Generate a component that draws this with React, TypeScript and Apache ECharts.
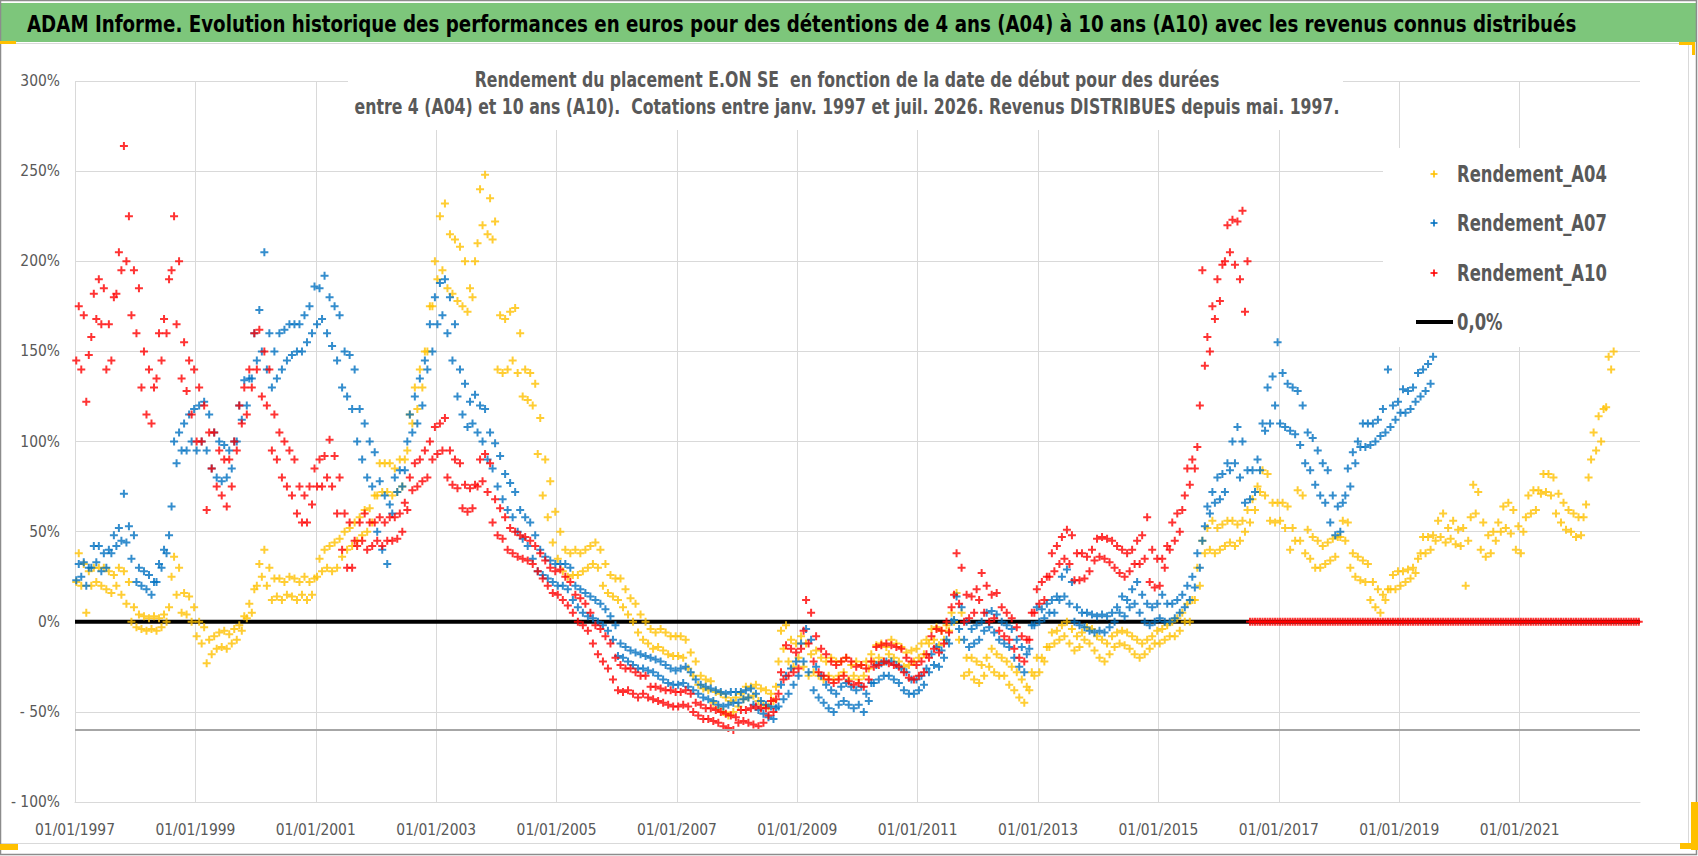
import React, { useEffect, useRef } from 'react';
import * as echarts from 'echarts';

const FONT = "'Liberation Sans Narrow', 'DejaVu Sans Condensed', 'Liberation Sans', sans-serif";

const TITLE = 'ADAM Informe. Evolution historique des performances en euros pour des détentions de 4 ans (A04) à 10 ans (A10) avec les revenus connus distribués';
const SUBTITLE_1 = 'Rendement du placement E.ON SE  en fonction de la date de début pour des durées';
const SUBTITLE_2 = 'entre 4 (A04) et 10 ans (A10).  Cotations entre janv. 1997 et juil. 2026. Revenus DISTRIBUES depuis mai. 1997.';

const seriesNames = ['Rendement_A04', 'Rendement_A07', 'Rendement_A10'];
const zeroLineName = '0,0%';
const xTickLabels = ['01/01/1997', '01/01/1999', '01/01/2001', '01/01/2003', '01/01/2005', '01/01/2007', '01/01/2009', '01/01/2011', '01/01/2013', '01/01/2015', '01/01/2017', '01/01/2019', '01/01/2021'];
const yTickLabels: Record<string, string> = { '-100': '- 100%', '-50': '- 50%', '0': '0%', '50': '50%', '100': '100%', '150': '150%', '200': '200%', '250': '250%', '300': '300%' };

// Monthly readings (low / high of the cloud) starting January 1997
const a10Lo = [
  145, 140, 122, 158, 168, 165, 140, 145, 182, 195, 200, 170,
  160, 130, 115, 110, 135, 145, 160, 195, 165, 135, 128, 115,
  100, 100, 62, 85, 75, 70, 64, 75, 95, 110, 115, 130,
  140, 125, 120, 95, 90, 80, 75, 70, 60, 55, 55, 65,
  75, 75, 80, 75, 60, 40, 30, 30, 42, 45, 40, 42,
  45, 42, 45, 45, 46, 50, 62, 73, 75, 78, 80, 90,
  93, 95, 80, 76, 74, 63, 61, 63, 75, 78, 72, 55,
  48, 46, 40, 38, 36, 35, 34, 32, 28, 24, 20, 16,
  15, 12, 9, 5, 0, -2, -5, -12, -18, -22, -26, -32,
  -38, -39, -38, -40, -42, -40, -42, -43, -44, -45, -46, -47,
  -47, -46, -47, -50, -52, -54, -54, -55, -56, -58, -59, -60,
  -56, -55, -56, -57, -58, -56, -52, -50, -40, -32, -30, -28,
  -26, -5, -12, -22, -28, -30, -32, -34, -32, -30, -33, -35,
  -34, -36, -32, -25, -24, -22, -23, -24, -25, -28, -31, -32,
  -30, -28, -20, -15, -17, -12, -6, 15, 10, 0, 2, 5,
  12, 5, 0, 2, -5, -8, -10, -15, -20, -22, -10, 5,
  10, 12, 25, 28, 32, 35, 32, 23, 23, 24, 28, 34,
  36, 35, 33, 30, 27, 25, 28, 32, 32, 35, 22, 19,
  20, 30, 40, 45, 50, 70, 76, 85, 120, 142, 150, 168,
  178, 200, 205, 198, 190, 172,
];
const a10Hi = [
  175, 170, 148, 182, 190, 185, 165, 180, 205, 264, 225, 195,
  185, 150, 140, 130, 160, 168, 190, 225, 200, 155, 145, 140,
  130, 120, 105, 105, 95, 90, 90, 100, 120, 130, 140, 160,
  162, 150, 140, 115, 105, 100, 95, 90, 75, 70, 75, 85,
  90, 92, 101, 92, 80, 60, 55, 45, 55, 60, 55, 55,
  58, 55, 58, 58, 60, 66, 80, 88, 90, 95, 100, 108,
  110, 113, 95, 90, 88, 76, 74, 76, 90, 93, 88, 68,
  63, 58, 52, 50, 48, 47, 45, 42, 38, 34, 30, 28,
  29, 25, 22, 15, 13, 10, 5, -2, -4, -8, -12, -20,
  -24, -26, -26, -28, -30, -30, -36, -36, -37, -38, -38, -39,
  -39, -38, -40, -45, -46, -48, -48, -49, -50, -51, -52, -53,
  -49, -49, -48, -47, -48, -48, -44, -43, -28, -13, -15, -17,
  -15, 12, 5, -8, -15, -18, -22, -24, -22, -20, -22, -25,
  -24, -26, -22, -14, -13, -12, -13, -14, -15, -20, -22, -24,
  -22, -18, -8, -4, -5, 0, 8, 38, 30, 15, 14, 18,
  27, 20, 15, 16, 8, 5, 2, -3, -8, -10, 5, 18,
  22, 25, 38, 42, 47, 51, 48, 38, 38, 36, 40, 46,
  47, 46, 45, 42, 40, 38, 40, 45, 48, 58, 40, 35,
  35, 42, 55, 60, 62, 85, 90, 97, 195, 158, 175, 190,
  198, 220, 223, 222, 228, 200,
];
// A10 values after June 2016 (no 10-year history yet): 0
const a10Tail = [
  0, 0, 0, 0, 0, 0,
  0, 0, 0, 0, 0, 0, 0, 0, 0, 0, 0, 0, 0, 0,
  0, 0, 0, 0, 0, 0, 0, 0, 0, 0, 0, 0, 0, 0,
  0, 0, 0, 0, 0, 0, 0, 0, 0, 0, 0, 0, 0, 0,
  0, 0, 0, 0, 0, 0, 0, 0, 0, 0, 0, 0, 0, 0,
  0, 0, 0, 0, 0, 0, 0, 0, 0, 0, 0, 0, 0, 0,
  0, 0, 0, 0, 0, 0, 0, 0, 0, 0, 0, 0, 0, 0,
];

const a07Lo = [
  23, 25, 20, 30, 33, 28, 30, 38, 42, 45, 44, 35,
  22, 20, 18, 15, 22, 30, 38, 64, 88, 95, 95, 100,
  95, 100, 95, 85, 80, 78, 80, 85, 100, 112, 120, 135,
  145, 150, 140, 130, 135, 140, 145, 148, 150, 150, 155, 160,
  165, 168, 160, 153, 145, 130, 125, 118, 100, 90, 80, 75,
  50, 40, 32, 60, 72, 75, 100, 105, 110, 120, 140, 150,
  165, 170, 160, 145, 125, 115, 108, 110, 105, 100, 90, 85,
  75, 68, 62, 58, 50, 46, 42, 35, 28, 26, 24, 22,
  20, 20, 18, 12, 8, 5, 3, 2, 0, -2, -5, -10,
  -19, -20, -22, -24, -26, -26, -27, -28, -30, -32, -34, -35,
  -35, -34, -36, -38, -40, -42, -43, -44, -46, -47, -46, -45,
  -45, -43, -42, -46, -49, -51, -53, -54, -47, -43, -40, -35,
  -30, -22, -28, -38, -42, -45, -48, -50, -46, -44, -46, -48,
  -46, -50, -44, -34, -32, -30, -30, -32, -34, -38, -40, -40,
  -38, -35, -28, -24, -25, -20, -12, 1, -4, -10, -14, -12,
  -10, -5, -3, -6, -10, -12, -14, -20, -25, -28, -15, -2,
  0, 2, 5, 5, 12, 14, 10, 0, -2, -3, -5, -6,
  -5, -6, -3, 0, 5, 3, 8, 10, 5, 0, -2, 0,
  2, 0, 0, 2, 5, 8, 12, 19, 30, 53, 60, 66,
  68, 72, 84, 88, 80, 66, 68, 72, 84, 106, 110, 120,
  110, 108, 106, 104, 98, 88, 84, 76, 70, 66, 55, 48,
  50, 70, 75, 88, 97, 97, 98, 100, 103, 105, 108, 112,
  116, 116, 118, 122, 125, 128, 132,
];
const a07Hi = [
  32, 33, 30, 42, 42, 38, 40, 48, 52, 71, 53, 48,
  30, 28, 26, 22, 32, 40, 48, 100, 105, 110, 115, 118,
  120, 122, 115, 105, 100, 98, 95, 100, 120, 134, 135, 160,
  173, 205, 160, 150, 160, 162, 165, 165, 165, 170, 175, 186,
  185, 192, 180, 175, 170, 150, 148, 140, 118, 110, 100, 94,
  78, 70, 65, 80, 84, 84, 115, 125, 135, 145, 165, 180,
  188, 190, 180, 165, 140, 132, 122, 126, 120, 118, 105, 99,
  92, 82, 77, 72, 62, 58, 55, 48, 40, 36, 34, 32,
  32, 32, 30, 20, 18, 16, 14, 12, 10, 7, 3, -2,
  -12, -14, -16, -17, -18, -19, -20, -21, -22, -24, -26, -27,
  -26, -25, -28, -32, -35, -36, -37, -38, -39, -40, -39, -39,
  -39, -38, -37, -40, -44, -46, -47, -48, -35, -30, -26, -22,
  -12, -4, -10, -25, -30, -35, -38, -40, -36, -34, -36, -38,
  -36, -40, -34, -24, -23, -22, -22, -24, -26, -28, -32, -32,
  -30, -26, -18, -14, -16, -10, 0, 14, 8, 0, -4, -2,
  0, 5, 6, 4, 0, -2, -4, -10, -14, -18, -2, 8,
  7, 10, 12, 14, 25, 29, 22, 8, 5, 5, 4, 3,
  4, 3, 5, 8, 14, 12, 18, 22, 15, 10, 8, 10,
  15, 10, 10, 12, 15, 20, 25, 38, 45, 64, 72, 80,
  82, 88, 100, 108, 100, 84, 84, 90, 110, 130, 136, 155,
  138, 132, 130, 128, 120, 105, 102, 95, 88, 84, 70, 64,
  66, 85, 94, 100, 110, 110, 110, 112, 118, 140, 120, 122,
  129, 128, 130, 138, 140, 143, 147,
];

const a04Lo = [
  22, 20, 5, 20, 22, 20, 18, 16, 20, 15, 10, 0,
  -3, -4, -5, -4, -5, -3, 0, 25, 15, 5, 4, 0,
  -8, -12, -23, -18, -15, -14, -15, -12, -10, -5, 2, 5,
  20, 25, 20, 12, 14, 12, 15, 14, 12, 15, 12, 15,
  25, 28, 30, 28, 30, 36, 40, 42, 45, 48, 50, 55,
  70, 72, 72, 70, 72, 75, 95, 110, 118, 130, 150, 175,
  190, 195, 185, 182, 178, 175, 172, 180, 210, 220, 215, 212,
  140, 138, 140, 145, 138, 125, 123, 120, 93, 70, 58, 44,
  35, 28, 25, 26, 26, 28, 30, 32, 30, 20, 16, 14,
  12, 8, 4, 0, -6, -10, -12, -15, -14, -16, -18, -19,
  -19, -20, -26, -30, -35, -37, -38, -45, -48, -50, -52, -50,
  -47, -43, -42, -41, -44, -46, -47, -44, -22, -15, -22, -25,
  -20, -25, -30, -28, -30, -32, -30, -32, -30, -28, -32, -30,
  -32, -30, -26, -22, -20, -22, -18, -20, -22, -25, -24, -22,
  -20, -18, -12, -10, -13, -10, -5, 0, -10, -30, -28, -32,
  -34, -30, -25, -28, -30, -30, -35, -38, -42, -45, -38, -30,
  -28, -22, -14, -12, -10, -8, -12, -16, -14, -10, -12, -16,
  -20, -22, -18, -14, -12, -13, -15, -18, -20, -18, -15, -12,
  -12, -10, -8, -8, -5, 0, 0, 12, 20, 38, 40, 38,
  40, 42, 44, 42, 45, 50, 55, 62, 72, 70, 56, 55,
  56, 52, 40, 45, 45, 38, 35, 30, 30, 32, 34, 36,
  47, 45, 30, 25, 23, 22, 12, 8, 5, 12, 18, 18,
  20, 22, 24, 27, 38, 38, 40, 45, 47, 44, 46, 43,
  42, 20, 58, 60, 40, 36, 38, 45, 50, 52, 49, 40,
  38, 58, 60, 62, 71, 72, 70, 60, 55, 51, 50, 47,
  48, 65, 90, 95, 100, 119, 140,
];
const a04Hi = [
  38, 32, 28, 30, 30, 30, 28, 26, 30, 28, 22, 8,
  4, 3, 2, 3, 2, 4, 8, 36, 30, 16, 14, 8,
  0, -3, -10, -8, -6, -5, -7, -4, -2, 3, 10, 18,
  32, 40, 30, 24, 24, 22, 25, 24, 22, 25, 22, 24,
  35, 40, 42, 44, 46, 50, 52, 55, 58, 62, 63, 70,
  88, 88, 88, 85, 90, 90, 115, 130, 140, 150, 175, 200,
  225, 232, 215, 212, 208, 200, 185, 200, 240, 248, 235, 222,
  170, 168, 172, 174, 160, 140, 138, 132, 113, 90, 78, 61,
  50, 40, 38, 40, 38, 40, 42, 44, 40, 32, 26, 24,
  24, 18, 13, 10, 4, 0, -4, -6, -4, -6, -8, -8,
  -8, -10, -17, -22, -30, -32, -33, -39, -40, -42, -44, -42,
  -40, -36, -36, -35, -37, -38, -40, -36, -5, -2, -10, -12,
  -8, -12, -18, -16, -20, -22, -20, -22, -22, -20, -24, -22,
  -24, -22, -18, -13, -12, -14, -10, -12, -14, -17, -16, -15,
  -12, -10, -4, -3, -5, -2, 5, 16, 5, -20, -20, -22,
  -24, -20, -15, -18, -20, -22, -25, -28, -32, -36, -28, -20,
  -20, -14, -6, -5, -2, 0, -4, -8, -6, -3, -4, -8,
  -10, -12, -8, -6, -5, -6, -8, -10, -12, -10, -8, -5,
  -4, -2, 0, 2, 5, 10, 12, 30, 45, 52, 56, 52,
  54, 56, 56, 54, 56, 62, 68, 75, 84, 82, 66, 66,
  66, 64, 52, 73, 70, 51, 47, 45, 42, 44, 46, 47,
  56, 55, 38, 36, 34, 32, 22, 18, 15, 18, 26, 28,
  28, 29, 30, 35, 47, 47, 48, 56, 60, 52, 56, 51,
  52, 45, 76, 72, 55, 48, 50, 55, 64, 66, 62, 53,
  50, 70, 73, 73, 82, 82, 80, 71, 66, 62, 60, 58,
  58, 80, 105, 114, 118, 147, 150,
];

const zeroLine = [0, 0];
const floorLine = -60;

const COLORS = { a04: '#FFC000', a07: '#0070C0', a10: '#FF0000' };
const PLUS = 'path://M3.75,0H6.25V3.75H10V6.25H6.25V10H3.75V6.25H0V3.75H3.75Z';

// x value = years elapsed since 01/01/1997
function toPoints(lo: number[], hi: number[], offset = 0) {
  const pts: number[][] = [];
  for (let i = 0; i < lo.length; i++) {
    const m = offset + i;
    pts.push([(m + 0.25) / 12, lo[i]]);
    pts.push([(m + 0.75) / 12, hi[i]]);
  }
  return pts;
}

function measure(text: string, font: string) {
  const ctx = document.createElement('canvas').getContext('2d');
  if (!ctx) return 0;
  ctx.font = font;
  return ctx.measureText(text).width;
}

function plusGlyph(cx: number, cy: number, color: string) {
  return [
    { type: 'rect', z: 102, shape: { x: cx - 3.5, y: cy - 0.8, width: 7, height: 1.6 }, style: { fill: color } },
    { type: 'rect', z: 102, shape: { x: cx - 0.8, y: cy - 3.5, width: 1.6, height: 7 }, style: { fill: color } },
  ];
}

export default function App() {
  const ref = useRef<HTMLDivElement>(null);
  useEffect(() => {
    if (!ref.current) return;
    const chart = echarts.init(ref.current, undefined, { renderer: 'svg' });

    // fit text widths to the reference layout
    const titleW = measure(TITLE, `bold 23px ${FONT}`) || 1550;
    const titleScale = Math.min(1, 1550 / titleW);
    const subW = measure(SUBTITLE_2, `bold 21px ${FONT}`) || 986;
    const subScale = Math.min(1, 986 / subW);
    const legW = measure(seriesNames[0], `bold 23px ${FONT}`) || 150;
    const legScale = Math.min(1, 150 / legW);
    const xLabW = measure(xTickLabels[0], `16px ${FONT}`) || 80;
    const axisFont = Math.max(12, Math.min(19, 16 * 80 / xLabW));

    const scatterBase = {
      type: 'scatter',
      symbol: PLUS,
      symbolSize: 8,
      progressive: 0,
      large: false,
      silent: true,
      emphasis: { disabled: true },
      z: 3,
    };
    const legendRows = [174, 223, 273, 322];
    const textStyle = (size: number, color: string, weight: string) => ({
      fontSize: size,
      fontFamily: FONT,
      fontWeight: weight,
      fill: color,
    });
    const option: any = {
      animation: false,
      backgroundColor: '#ffffff',
      grid: { left: 75, top: 81, width: 1565, height: 721, outerBoundsMode: 'none', containLabel: false },
      xAxis: {
        type: 'value',
        min: 0,
        max: 26,
        interval: 2,
        axisLine: { show: true, onZero: false, lineStyle: { color: '#d9d9d9', width: 1 } },
        axisTick: { show: false },
        axisLabel: {
          formatter: (v: number) => xTickLabels[Math.round(v / 2)] ?? '',
          color: '#595959',
          fontSize: axisFont,
          fontFamily: FONT,
          margin: 20,
          showMaxLabel: false,
        },
        splitLine: { show: true, showMaxLine: false, lineStyle: { color: '#d9d9d9', width: 1 } },
      },
      yAxis: {
        type: 'value',
        min: -100,
        max: 300,
        interval: 50,
        axisLine: { show: false },
        axisTick: { show: false },
        axisLabel: {
          formatter: (v: number) => yTickLabels[String(v)] ?? '',
          color: '#595959',
          fontSize: axisFont,
          fontFamily: FONT,
          margin: 15,
        },
        splitLine: { show: true, lineStyle: { color: '#d9d9d9', width: 1 } },
      },
      series: [
        {
          name: zeroLineName,
          type: 'line',
          data: [[0, zeroLine[0]], [26, zeroLine[1]]],
          symbol: 'none',
          lineStyle: { color: '#000000', width: 4 },
          silent: true,
          z: 2,
          markLine: {
            silent: true,
            symbol: 'none',
            label: { show: false },
            lineStyle: { color: '#a6a6a6', width: 2, type: 'solid' },
            data: [{ yAxis: floorLine }],
          },
        },
        { ...scatterBase, name: seriesNames[0], data: toPoints(a04Lo, a04Hi), itemStyle: { color: COLORS.a04 } },
        { ...scatterBase, name: seriesNames[1], data: toPoints(a07Lo, a07Hi), itemStyle: { color: COLORS.a07 } },
        {
          ...scatterBase,
          name: seriesNames[2],
          data: toPoints(a10Lo, a10Hi).concat(toPoints(a10Tail, a10Tail, a10Lo.length)),
          itemStyle: { color: COLORS.a10 },
        },
      ],
      graphic: [
        // green title band
        { type: 'rect', z: 100, shape: { x: 1, y: 3, width: 1695, height: 39 }, style: { fill: '#7dc67b' } },
        {
          type: 'text', z: 101, x: 27, y: 24, scaleX: titleScale,
          style: { text: TITLE, ...textStyle(23, '#000000', 'bold'), align: 'left', verticalAlign: 'middle', textAlign: 'left', textVerticalAlign: 'middle' },
        },
        // subtitle box
        { type: 'rect', z: 100, shape: { x: 348, y: 46, width: 995, height: 84 }, style: { fill: '#ffffff' } },
        {
          type: 'text', z: 101, x: 847, y: 80, scaleX: subScale,
          style: { text: SUBTITLE_1, ...textStyle(21, '#595959', 'bold'), align: 'center', verticalAlign: 'middle', textAlign: 'center', textVerticalAlign: 'middle' },
        },
        {
          type: 'text', z: 101, x: 847, y: 107, scaleX: subScale,
          style: { text: SUBTITLE_2, ...textStyle(21, '#595959', 'bold'), align: 'center', verticalAlign: 'middle', textAlign: 'center', textVerticalAlign: 'middle' },
        },
        // legend box
        { type: 'rect', z: 100, shape: { x: 1383, y: 148, width: 258, height: 199 }, style: { fill: '#ffffff' } },
        ...plusGlyph(1434, legendRows[0], COLORS.a04),
        ...plusGlyph(1434, legendRows[1], COLORS.a07),
        ...plusGlyph(1434, legendRows[2], COLORS.a10),
        { type: 'line', z: 102, shape: { x1: 1416, y1: legendRows[3], x2: 1453, y2: legendRows[3] }, style: { stroke: '#000000', lineWidth: 4 } },
        ...[seriesNames[0], seriesNames[1], seriesNames[2], zeroLineName].map((name, i) => ({
          type: 'text', z: 102, x: 1457, y: legendRows[i], scaleX: legScale,
          style: { text: name, ...textStyle(23, '#595959', 'bold'), align: 'left', verticalAlign: 'middle', textAlign: 'left', textVerticalAlign: 'middle' },
        })),
        // frames
        { type: 'line', z: 102, shape: { x1: 0, y1: 43.5, x2: 1689, y2: 43.5 }, style: { stroke: '#d9d9d9', lineWidth: 1 } },
        { type: 'line', z: 102, shape: { x1: 0, y1: 843.5, x2: 1689, y2: 843.5 }, style: { stroke: '#d9d9d9', lineWidth: 1 } },
        { type: 'line', z: 102, shape: { x1: 1688.5, y1: 43, x2: 1688.5, y2: 844 }, style: { stroke: '#d9d9d9', lineWidth: 1 } },
        { type: 'rect', z: 103, shape: { x: 0.5, y: 0.5, width: 1696, height: 854 }, style: { fill: 'none', stroke: '#8c8c8c', lineWidth: 1.5 } },
        // selection handles
        { type: 'rect', z: 104, shape: { x: 0, y: 41, width: 16, height: 3 }, style: { fill: '#FFC000' } },
        { type: 'rect', z: 104, shape: { x: 0, y: 844, width: 18, height: 6 }, style: { fill: '#FFC000' } },
        { type: 'rect', z: 104, shape: { x: 1679, y: 42, width: 16, height: 3 }, style: { fill: '#FFC000' } },
        { type: 'rect', z: 104, shape: { x: 1692, y: 42, width: 3, height: 13 }, style: { fill: '#FFC000' } },
        { type: 'rect', z: 104, shape: { x: 1680, y: 843, width: 18, height: 6 }, style: { fill: '#FFC000' } },
        { type: 'rect', z: 104, shape: { x: 1691, y: 802, width: 7, height: 48 }, style: { fill: '#FFC000' } },
      ],
    };
    chart.setOption(option);
    return () => chart.dispose();
  }, []);
  return <div ref={ref} style={{ position: 'fixed', left: 0, top: 0, width: 1698, height: 856 }} />;
}
